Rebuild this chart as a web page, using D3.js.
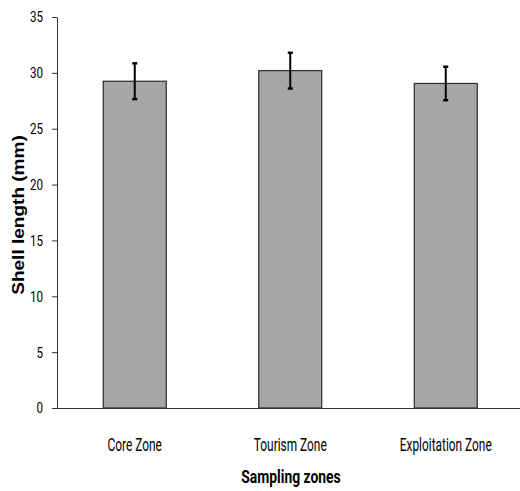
<!DOCTYPE html>
<html><head><meta charset="utf-8">
<script src="https://cdn.jsdelivr.net/npm/d3@7"></script>
<style>body{margin:0;background:#fff}</style>
</head><body>
<svg id="c" width="520" height="491"></svg>
<script>
const categories = ["Core Zone", "Tourism Zone", "Exploitation Zone"];
const means = [29.25, 30.2, 29.05];
const errors = [1.6, 1.6, 1.5];
const yTicks = [0, 5, 10, 15, 20, 25, 30, 35];

const svg = d3.select("#c");
const x = d3.scaleBand().domain(categories).range([57, 523.5]).paddingInner(0.595).paddingOuter(0.2975);
const y = d3.scaleLinear().domain([0, 35]).range([408, 17]);
const narrow = "Roboto,'Liberation Sans',sans-serif";

// bars
svg.selectAll("rect.bar").data(categories).join("rect")
  .attr("x", d => x(d)).attr("width", x.bandwidth())
  .attr("y", (d,i) => y(means[i])).attr("height", (d,i) => y(0) - y(means[i]))
  .attr("fill", "#a6a6a6").attr("stroke", "#2b2b2b").attr("stroke-width", 1.2);

// error bars
const eb = svg.append("g").attr("stroke", "#000").attr("stroke-width", 2);
categories.forEach((c, i) => {
  const cx = x(c) + x.bandwidth() / 2;
  eb.append("line").attr("x1", cx).attr("x2", cx).attr("y1", y(means[i] + errors[i])).attr("y2", y(means[i] - errors[i]));
  [means[i] + errors[i], means[i] - errors[i]].forEach(v => {
    eb.append("line").attr("x1", cx - 2.5).attr("x2", cx + 2.5).attr("y1", y(v)).attr("y2", y(v)).attr("stroke-width", 2.5);
  });
});

// y axis
const ySx = 0.75;
const yAxis = d3.axisLeft(y).tickValues(yTicks).tickSize(5).tickPadding(8).tickSizeOuter(0);
const gy = svg.append("g").attr("transform", "translate(57,0)").call(yAxis);
gy.select(".domain").attr("stroke", "#333");
gy.selectAll(".tick line").attr("stroke", "#333");
gy.selectAll(".tick text").attr("font-family", narrow).attr("font-size", 15.5).attr("fill", "#000")
  .attr("x", -14 / ySx).attr("transform", `scale(${ySx},1)`);

// x axis
const xAxis = d3.axisBottom(x).tickSize(0).tickPadding(30).tickSizeOuter(0);
const gx = svg.append("g").attr("transform", "translate(0,408)").call(xAxis);
gx.select(".domain").attr("stroke", "#333").attr("d", "M57,0.5H520");
gx.selectAll(".tick text").attr("font-family", narrow).attr("font-size", 18).attr("fill", "#000")
  .attr("transform", "scale(0.66,1)");

// axis titles
svg.append("text").attr("transform", "translate(291,483) scale(0.73,1)").attr("text-anchor", "middle")
  .attr("font-family", narrow).attr("font-weight", "bold").attr("font-size", 19).text("Sampling zones");
svg.append("text").attr("transform", "translate(24,215) rotate(-90) scale(1.12,1)").attr("text-anchor", "middle")
  .attr("font-family", "'Liberation Sans',Arial,sans-serif").attr("font-weight", "bold").attr("font-size", 17).text("Shell length (mm)");
</script>
</body></html>
